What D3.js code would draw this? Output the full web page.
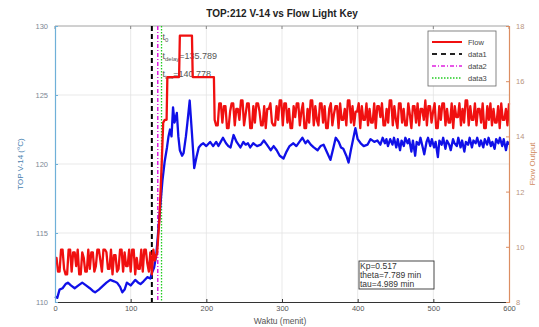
<!DOCTYPE html>
<html><head><meta charset="utf-8">
<script src="https://cdn.jsdelivr.net/npm/d3@7"></script>
<style>body{margin:0;background:#fff}svg{display:block;font-family:"Liberation Sans",Arial,sans-serif}</style>
</head><body><svg id="c" width="539" height="327"></svg>
<script>
// ---- data ----
const xTicks = [0,100,200,300,400,500,600];
const leftTicks = [110,115,120,125,130];
const rightTicks = [8,10,12,14,16,18];

const tempT = [0,3,6,10,14,17,21,26,31,36,41,46,50,53,58,64,68,73,78,82,86,89,92,95,100,106,110,113,117,122,126,128,131,134,137,140,142,145,148,150,152,154,156,158,161,163,165,168,170,173,175,178,181,184,187,190,193,196,200,205,209,213,216,219,222,226,229,232,236,240,245,249,252,255,258,262,267,272,276,280,285,289,293,297,302,306,310,315,319,323,327,331,334,338,342,347,351,355,359,364,368,371,375,378,381,385,388,391,394,397,400,404,408,413,417,422,426,430,433,436,438,440,443,446,448,451,453,456,458,461,463,466,468,471,473,476,478,481,483,486,488,491,493,496,498,501,503,506,508,511,513,516,518,521,523,526,528,531,533,536,538,541,543,546,548,551,553,556,558,561,563,566,568,571,573,576,578,581,583,586,588,591,593,596,598,600];
const tempV = [110.4,110.3,110.9,111.0,111.3,111.4,111.2,111.0,111.2,111.4,111.2,111.0,110.8,110.7,110.9,111.2,111.4,111.6,111.5,111.4,111.1,110.7,110.9,111.4,111.2,111.6,111.4,111.3,111.5,111.8,111.7,112.1,112.5,113.5,115.5,117.5,118.8,120.2,121.2,122.0,122.5,122.0,124.1,123.0,123.7,122.0,121.0,120.6,120.8,122.0,123.0,124.6,122.2,119.7,120.5,121.2,121.4,121.5,121.3,121.6,121.3,121.6,121.3,121.6,121.9,121.5,121.3,121.2,122.1,121.6,121.2,121.6,121.4,121.5,121.2,121.5,121.3,121.4,121.7,121.4,121.0,121.3,121.0,120.6,120.4,120.9,121.3,121.5,121.3,121.6,121.9,121.5,121.7,121.4,121.2,121.0,121.3,121.4,120.9,120.3,121.2,121.9,121.6,121.2,121.1,120.6,120.1,121.0,121.8,122.6,121.8,121.5,121.3,121.4,121.8,121.6,121.7,121.4,121.9,121.5,121.8,121.3,121.8,121.4,121.9,121.2,121.8,121.0,121.7,121.3,121.9,121.5,121.8,120.9,121.7,120.6,121.6,121.4,121.9,121.2,120.7,121.6,121.9,121.3,121.8,121.2,121.6,120.5,121.7,121.4,121.9,121.1,121.7,121.4,121.0,121.8,121.5,121.3,121.9,121.2,121.7,120.9,121.6,121.4,121.9,121.2,121.7,121.5,121.9,121.3,121.7,121.2,121.8,121.4,121.9,121.3,121.6,121.1,121.8,121.5,121.9,121.3,121.8,121.0,121.6,121.4];

// flow: noisy start (0..132), step response, noisy steady state (213..600)
const flowPreStart = 0, flowPreEnd = 132;
const flowPreV = [9.6,9.6,9.1,9.1,9.9,9.9,9.2,9.0,9.0,9.9,9.9,9.1,9.8,9.8,9.3,9.9,9.0,9.0,9.8,9.6,9.1,9.1,9.9,9.2,9.8,9.8,9.1,9.3,9.9,9.9,9.5,9.1,9.9,9.9,9.8,9.2,9.2,9.9,9.0,9.7,9.7,9.1,9.2,9.9,9.9,9.1,9.8,9.3,9.3,9.9,9.1,9.9,9.9,9.0,9.6,9.2,9.2,9.9,9.1,9.9,9.9,9.4,9.1,9.8,9.0,9.9,9.5];
const flowStepT = [135,138,141,143,145,147.5,148.5,164,165,181,182,210,211];
const flowStepV = [9.8,11.0,13.0,14.5,14.6,14.6,16.15,16.15,17.65,17.65,16.15,16.15,14.6];
const flowPostStart = 213, flowPostEnd = 600;
const flowPostV = [14.4,14.4,15.2,15.2,14.5,15.1,15.1,14.3,14.3,14.9,15.2,15.2,14.4,15.0,15.0,14.6,15.3,15.3,14.4,14.8,
15.2,15.2,14.3,14.3,15.1,14.5,15.2,15.2,14.9,14.4,14.4,15.1,14.3,15.0,15.0,15.2,14.5,14.4,14.4,15.1,
14.6,15.3,15.3,14.4,15.2,15.2,14.5,15.0,14.3,14.3,15.1,14.7,15.2,15.2,14.4,14.9,15.2,14.3,14.3,15.0,
14.5,15.3,15.3,14.4,15.1,14.6,14.4,15.2,15.2,14.5,15.1,14.3,14.3,15.0,15.2,14.4,14.8,15.1,15.1,14.3,
15.2,14.6,14.6,15.0,14.4,15.3,15.3,14.5,15.1,14.4,14.9,14.9,15.2,14.3,15.1,14.6,14.6,15.2,14.4,15.0,
14.5,14.5,15.2,14.3,15.1,15.1,14.7,15.2,14.4,14.4,15.0,14.5,15.3,15.3,14.4,15.1,14.6,14.3,15.2,15.2,
14.5,15.0,14.4,14.4,15.2,14.8,14.3,15.1,15.1,14.5,15.2,14.4,15.0,15.0,14.6,15.3,14.4,15.1,15.1,14.5,
14.9,15.2,14.3,14.3,15.1,14.6,15.2,15.2,14.4,15.0,14.5,14.5,15.2,14.3,15.1,14.7,14.7,15.2,14.4,15.0,
14.5,15.3,15.3,14.4,15.1,14.6,14.6,15.2,14.4,15.0,15.0,14.5,15.2,14.3,14.3,15.1,14.6,15.2,14.4,15.0,
14.5,14.5,15.1,14.3,15.2,14.6,14.6,15.0,14.4,15.2];

const vlines = [{name:"data1", t:128, color:"#000000", dash:"5,3", width:2},
                {name:"data2", t:135.789, color:"#e020e0", dash:"4,2,1,2", width:1.5},
                {name:"data3", t:140.778, color:"#22cc22", dash:"1.5,1.5", width:1.3}];
const legendItems = ["Flow","data1","data2","data3"];
const statsLines = ["Kp=0.517","theta=7.789 min","tau=4.989 min"];

// ---- layout ----
const svg = d3.select("#c");
const L=55, R=509, T=26, B=302;
const x = d3.scaleLinear().domain([0,600]).range([L,R]);
const yL = d3.scaleLinear().domain([110,130]).range([B,T]);
const yR = d3.scaleLinear().domain([8,18]).range([B,T]);

// grid
const g = svg.append("g");
g.selectAll(".gx").data(xTicks.slice(1,-1)).join("line")
 .attr("x1",d=>x(d)).attr("x2",d=>x(d)).attr("y1",T).attr("y2",B)
 .attr("stroke","#e3e3e3").attr("stroke-width",0.8);
g.selectAll(".gy").data(leftTicks.slice(1,-1)).join("line")
 .attr("x1",L).attr("x2",R).attr("y1",d=>yL(d)).attr("y2",d=>yL(d))
 .attr("stroke","#e3e3e3").attr("stroke-width",0.8);

// frame top
svg.append("line").attr("x1",L).attr("x2",R).attr("y1",T).attr("y2",T).attr("stroke","#8a8a8a").attr("stroke-width",0.8);
svg.selectAll(".tt").data(xTicks).join("line").attr("x1",d=>x(d)).attr("x2",d=>x(d)).attr("y1",T).attr("y2",T+3).attr("stroke","#8a8a8a");

// vertical event lines
vlines.forEach(v=>{
  svg.append("line").attr("x1",x(v.t)).attr("x2",x(v.t)).attr("y1",T).attr("y2",B)
   .attr("stroke",v.color).attr("stroke-width",v.width).attr("stroke-dasharray",v.dash);
});

// annotations
const ann = svg.append("g").attr("font-size",9).attr("fill","#555");
function sub(y, main, s, rest){
  const t = ann.append("text").attr("x",x(142)).attr("y",y);
  t.append("tspan").text(main);
  t.append("tspan").attr("font-size",6).attr("dy",2).text(s);
  if(rest) t.append("tspan").attr("dy",-2).text(rest);
}
sub(40,"t","0","");
sub(59,"t","delay","=135.789");
sub(77,"t","tau","=140.778");

// temperature line (left axis)
const tempData = tempT.map((t,i)=>[t,tempV[i]]);
svg.append("path").datum(tempData)
 .attr("d",d3.line().x(d=>x(d[0])).y(d=>yL(d[1])))
 .attr("fill","none").attr("stroke","#1010e8").attr("stroke-width",2.3).attr("stroke-linejoin","round");

// flow line (right axis)
const flowData = [];
const preStep = (flowPreEnd-flowPreStart)/(flowPreV.length-1);
flowPreV.forEach((v,i)=>flowData.push([flowPreStart+i*preStep, v]));
flowStepT.forEach((t,i)=>flowData.push([t, flowStepV[i]]));
const postStep = (flowPostEnd-flowPostStart)/(flowPostV.length-1);
flowPostV.forEach((v,i)=>flowData.push([flowPostStart+i*postStep, v]));
svg.append("path").datum(flowData)
 .attr("d",d3.line().x(d=>x(d[0])).y(d=>yR(d[1])))
 .attr("fill","none").attr("stroke","#f01010").attr("stroke-width",2.3).attr("stroke-linejoin","round");

// axes
const axB = svg.append("g").attr("transform",`translate(0,${B})`)
 .call(d3.axisBottom(x).tickValues(xTicks).tickSize(-3).tickPadding(4).tickFormat(d3.format("d")));
axB.select(".domain").attr("stroke","#333");
axB.selectAll("line").attr("stroke","#333");
axB.selectAll("text").attr("font-size",7.5).attr("fill","#555");

const axL = svg.append("g").attr("transform",`translate(${L},0)`)
 .call(d3.axisLeft(yL).tickValues(leftTicks).tickSize(-3).tickPadding(7));
axL.select(".domain").attr("stroke","#6fb0d8").attr("stroke-width",1.2);
axL.selectAll("line").attr("stroke","#6fb0d8");
axL.selectAll("text").attr("font-size",7.5).attr("fill","#7d8894");

const axR = svg.append("g").attr("transform",`translate(${R},0)`)
 .call(d3.axisRight(yR).tickValues(rightTicks).tickSize(-3).tickPadding(7));
axR.select(".domain").attr("stroke","#dc8e62").attr("stroke-width",1.2);
axR.selectAll("line").attr("stroke","#dc8e62");
axR.selectAll("text").attr("font-size",7.5).attr("fill","#b89580");

// labels
svg.append("text").attr("x",282).attr("y",17).attr("text-anchor","middle")
 .attr("font-size",10).attr("font-weight","bold").attr("fill","#222").text("TOP:212 V-14 vs Flow Light Key");
svg.append("text").attr("x",280).attr("y",324).attr("text-anchor","middle")
 .attr("font-size",8.5).attr("fill","#555").text("Waktu (menit)");
svg.append("text").attr("transform","translate(23,164) rotate(-90)").attr("text-anchor","middle")
 .attr("font-size",8).attr("fill","#4a7fb0").text("TOP V-14 (°C)");
svg.append("text").attr("transform","translate(535,164) rotate(-90)").attr("text-anchor","middle")
 .attr("font-size",8).attr("fill","#d08a60").text("Flow Output");

// legend
const lg = svg.append("g");
lg.append("rect").attr("x",428).attr("y",31).attr("width",68).attr("height",55)
 .attr("fill","#fff").attr("stroke","#666").attr("stroke-width",0.8);
const lstyle = [{c:"#f01010",d:null,w:2},{c:"#222",d:"5,4",w:1.8},{c:"#e020e0",d:"4,2,1,2",w:1.5},{c:"#22cc22",d:"1.5,1.5",w:1.3}];
legendItems.forEach((n,i)=>{
  const yy = 42 + i*12;
  lg.append("line").attr("x1",432).attr("x2",462).attr("y1",yy).attr("y2",yy)
   .attr("stroke",lstyle[i].c).attr("stroke-width",lstyle[i].w).attr("stroke-dasharray",lstyle[i].d);
  lg.append("text").attr("x",468).attr("y",yy+2.5).attr("font-size",7.5).attr("fill","#444").text(n);
});

// stats box
const sb = svg.append("g");
sb.append("rect").attr("x",359).attr("y",261).attr("width",75).attr("height",28)
 .attr("fill","#fff").attr("stroke","#333").attr("stroke-width",0.9);
statsLines.forEach((s,i)=>{
  sb.append("text").attr("x",360).attr("y",268.5+i*9).attr("font-size",8.5).attr("fill","#333").text(s);
});
</script></body></html>
